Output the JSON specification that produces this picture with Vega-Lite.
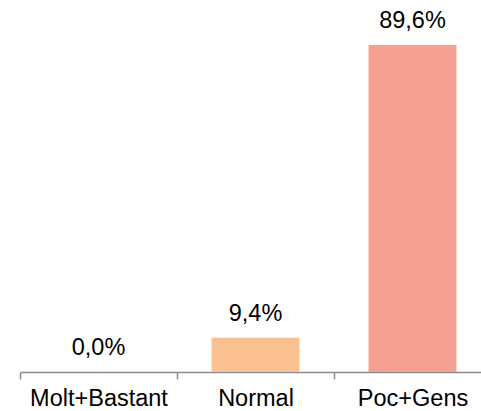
{
  "$schema": "https://vega.github.io/schema/vega-lite/v6.json",
  "autosize": "none",
  "width": 471,
  "height": 365,
  "padding": {"left": 20, "top": 7, "right": 0, "bottom": 39},
  "background": "white",
  "config": {"view": {"stroke": null}, "font": "Liberation Sans"},
  "data": {"values": [
    {"cat": "Molt+Bastant", "pct": 0.0, "label": "0,0%"},
    {"cat": "Normal", "pct": 9.4, "label": "9,4%"},
    {"cat": "Poc+Gens", "pct": 89.6, "label": "89,6%"}
  ]},
  "encoding": {
    "x": {"field": "cat", "type": "nominal", "sort": null,
      "scale": {"paddingInner": 0, "paddingOuter": 0},
      "axis": {"title": null, "labelAngle": 0, "tickBand": "extent", "labelFontSize": 23.5, "labelColor": "#000000", "labelFont": "Liberation Sans", "domainColor": "#8c8c8c", "domainWidth": 1.5, "tickColor": "#8c8c8c", "tickWidth": 1.5, "tickSize": 7, "labelPadding": 7}},
    "y": {"field": "pct", "type": "quantitative", "scale": {"domain": [0, 100]}, "axis": null}
  },
  "layer": [
    {"mark": {"type": "bar", "width": {"band": 0.56}},
     "encoding": {"color": {"field": "cat", "type": "nominal", "legend": null,
       "scale": {"domain": ["Molt+Bastant", "Normal", "Poc+Gens"], "range": ["#9dc3e6", "#FAC08F", "#F5A092"]}}}},
    {"mark": {"type": "text", "baseline": "alphabetic", "dy": -17, "fontSize": 23.5, "color": "#000000", "font": "Liberation Sans"},
     "encoding": {"text": {"field": "label"}}}
  ]
}
